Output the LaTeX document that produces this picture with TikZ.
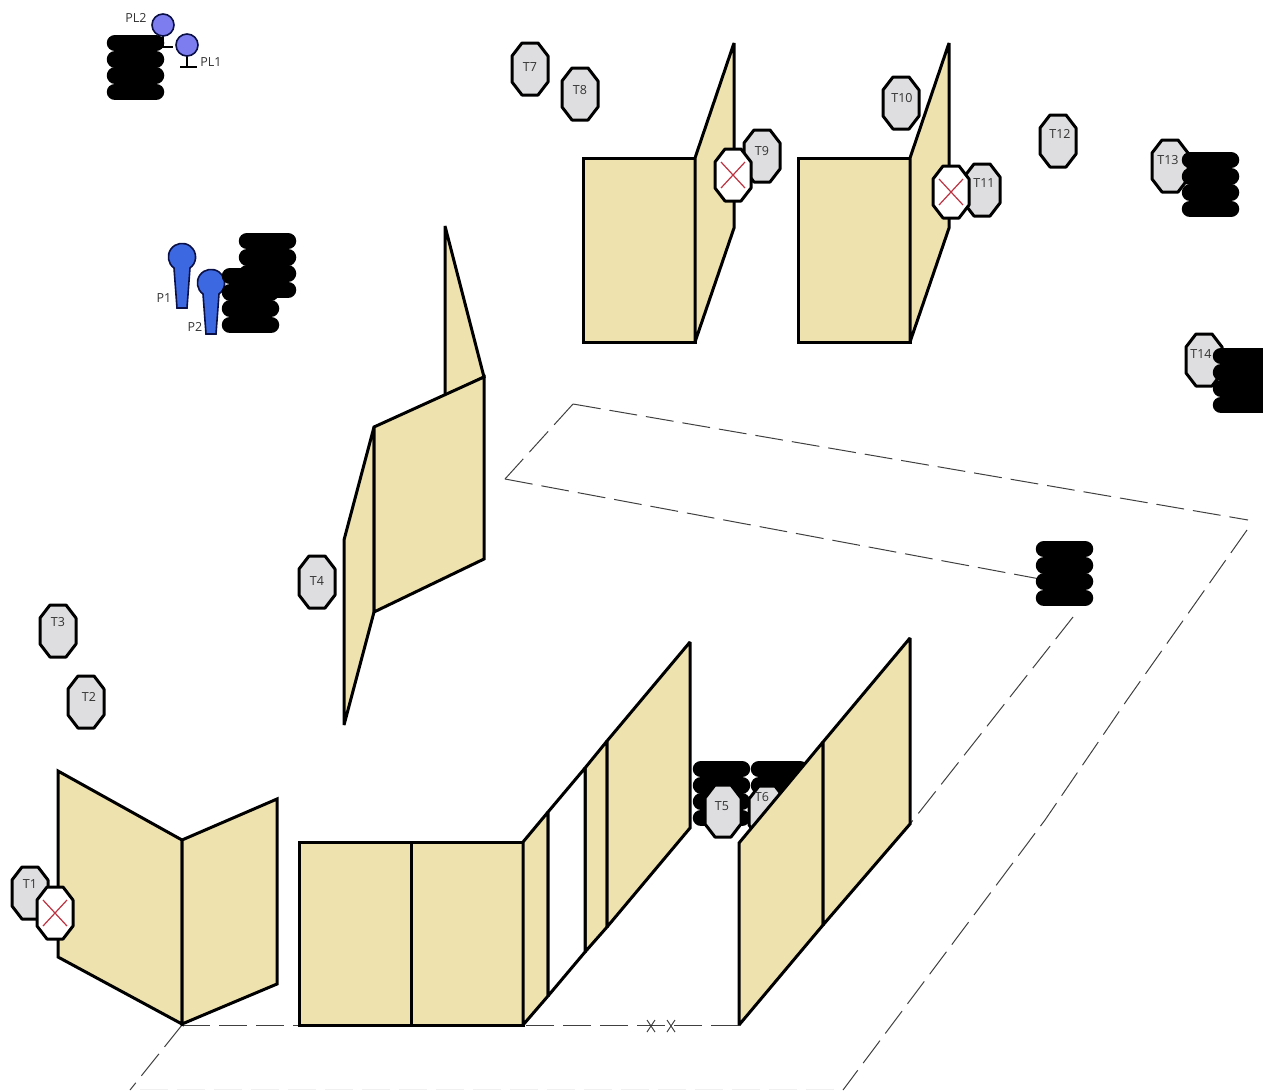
\documentclass[tikz,border=0pt]{standalone}
\usepackage{fontspec}
\setmainfont{Open Sans}
\definecolor{wallbeige}{RGB}{238, 226, 175}
\definecolor{tablegray}{RGB}{222, 222, 224}
\definecolor{lampblue}{RGB}{125, 125, 240}
\definecolor{guardblue}{RGB}{60, 105, 225}
\definecolor{darknavy}{RGB}{10, 15, 70}
\definecolor{crossred}{RGB}{190, 50, 65}
\tikzset{
    wall/.style={draw=black, fill=wallbeige, line width=3pt, line join=miter, miter limit=2},
    roadline/.style={draw=black!75, line width=1pt, dash pattern=on 28pt off 9pt},
    tablebox/.style={draw=black, line width=3pt, line join=round},
    tyreline/.style={line width=16.5pt, line cap=round, black},
    tablelabel/.style={text=black!80, font=\fontsize{12.5}{14}\selectfont, inner sep=0pt}
}
% one octagon, centre at #1,#2
\newcommand{\octagon}[3]{
    \draw[tablebox, fill=#3] (#1-8,#2-26) -- (#1+8,#2-26) -- (#1+18,#2-13) -- (#1+18,#2+13)
        -- (#1+8,#2+26) -- (#1-8,#2+26) -- (#1-18,#2+13) -- (#1-18,#2-13) -- cycle;
}
% closed table with a red cross
\newcommand{\crossed}[2]{
    \octagon{#1}{#2}{white}
    \draw[crossred, line width=1.2pt] (#1-12,#2-13) -- (#1+12,#2+13);
    \draw[crossred, line width=1.2pt] (#1-12,#2+13) -- (#1+12,#2-13);
}
% four tyres, top left corner at #1,#2
\newcommand{\tyres}[2]{
    \foreach \i in {0,1,2,3} {
        \draw[tyreline] (#1+8,#2+8+16.3*\i) -- (#1+49,#2+8+16.3*\i);
    }
}
\begin{document}
\begin{tikzpicture}[x=1pt, y=-1pt]
    \useasboundingbox (0,0) rectangle (1263,1090);

    % Road
    \draw[roadline] (573,404) -- (1248,520);
    \draw[roadline] (573,404) -- (505,479);
    \draw[roadline] (505,479) -- (1040,579);
    \draw[roadline] (1247,530) -- (1127,700) -- (1045,820) -- (843,1090);
    \draw[roadline] (1073,617) -- (910,824);
    \draw[roadline] (182,1025) -- (299,1025);
    \draw[roadline] (739,1025) -- (523,1025);
    \draw[roadline] (182,1025) -- (130,1090);
    \draw[roadline, draw=black!6] (140,1089) -- (840,1089);
    \draw[black!80, line width=0.9pt] (647,1020) -- (655,1032) (647,1032) -- (655,1020);
    \draw[black!80, line width=0.9pt] (667,1020) -- (675,1032) (667,1032) -- (675,1020);

    % Lamps
    \draw[line width=1.5pt] (163,36) -- (163,47) (150,47) -- (173,47);
    \draw[line width=1.5pt] (187,56) -- (187,67) (180,67) -- (197,67);
    \draw[fill=lampblue, draw=darknavy, line width=1.6pt] (163,25) circle (11);
    \draw[fill=lampblue, draw=darknavy, line width=1.6pt] (187,45) circle (11);
    \node[tablelabel] (pl2) at (136,18) {PL2};
    \node[tablelabel] (pl1) at (211,62) {PL1};
    \tyres{107}{35}

    % Guards
    \draw[fill=guardblue, draw=darknavy, line width=1.6pt] (174,268) arc (126:414:13.6) -- (187,308) -- (177,308) -- cycle;
    \draw[fill=guardblue, draw=darknavy, line width=1.6pt] (203,294) arc (126:414:13.6) -- (216,334) -- (206,334) -- cycle;
    \node[tablelabel] (p1) at (164,298) {P1};
    \node[tablelabel] (p2) at (195,327) {P2};
    \tyres{239}{233}
    \tyres{222}{268}

    % Left walls
    \draw[wall] (58,771) -- (182,840) -- (182,1024) -- (58,957) -- cycle;
    \draw[wall] (182,840) -- (277,799) -- (277,984) -- (182,1024) -- cycle;
    \octagon{30}{893}{tablegray}
    \node[tablelabel] (t1) at (30,884) {T1};
    \crossed{55}{913}
    \octagon{86}{702}{tablegray}
    \node[tablelabel] (t2) at (89,697) {T2};
    \octagon{58}{631}{tablegray}
    \node[tablelabel] (t3) at (58,622) {T3};

    % Front building
    \draw[wall] (299,842) rectangle (523,1025);
    \draw[wall] (411,842) -- (411,1025);
    \draw[wall] (523,842) -- (548,812) -- (548,996) -- (523,1025) -- cycle;
    \draw[wall] (585,768) -- (607,741) -- (607,927) -- (585,952) -- cycle;
    \draw[wall] (607,741) -- (690,642) -- (690,828) -- (607,927) -- cycle;
    \draw[wall, fill=white] (548,812) -- (585,768) -- (585,952) -- (548,996) -- cycle;

    % Middle wall
    \draw[wall] (445,226) -- (484,377) -- (445,396) -- cycle;
    \draw[wall] (374,427) -- (344,540) -- (344,725) -- (374,612) -- cycle;
    \draw[wall] (374,427) -- (484,377) -- (484,559) -- (374,612) -- cycle;
    \octagon{317}{582}{tablegray}
    \node[tablelabel] (t4) at (317,581) {T4};

    % Gate
    \tyres{693}{761}
    \tyres{751}{761}
    \octagon{767}{812}{tablegray}
    \node[tablelabel] (t6) at (762,797) {T6};
    \octagon{723}{811}{tablegray}
    \node[tablelabel] (t5) at (722,806) {T5};
    \draw[wall] (739,843) -- (823,742) -- (823,925) -- (739,1025) -- cycle;
    \draw[wall] (823,742) -- (910,638) -- (910,824) -- (823,925) -- cycle;

    % Upper buildings
    \draw[wall] (583,158) rectangle (695,342);
    \draw[wall] (695,158) -- (734,43) -- (734,228) -- (695,342) -- cycle;
    \draw[wall] (798,158) rectangle (910,342);
    \draw[wall] (910,158) -- (949,43) -- (949,228) -- (910,342) -- cycle;

    % Upper tables
    \octagon{530}{69}{tablegray}
    \node[tablelabel] (t7) at (530,67) {T7};
    \octagon{580}{94}{tablegray}
    \node[tablelabel] (t8) at (580,90) {T8};
    \octagon{762}{156}{tablegray}
    \node[tablelabel] (t9) at (762,151) {T9};
    \crossed{733}{175}
    \octagon{901}{103}{tablegray}
    \node[tablelabel] (t10) at (902,98) {T10};
    \octagon{982}{190}{tablegray}
    \node[tablelabel] (t11) at (984,183) {T11};
    \crossed{951}{192}
    \octagon{1058}{141}{tablegray}
    \node[tablelabel] (t12) at (1060,134) {T12};

    % Right side
    \octagon{1170}{166}{tablegray}
    \node[tablelabel] (t13) at (1168,160) {T13};
    \tyres{1182}{152}
    \octagon{1204}{360}{tablegray}
    \node[tablelabel] (t14) at (1201,354) {T14};
    \tyres{1213}{348}
    \tyres{1036}{541}
\end{tikzpicture}
\end{document}
